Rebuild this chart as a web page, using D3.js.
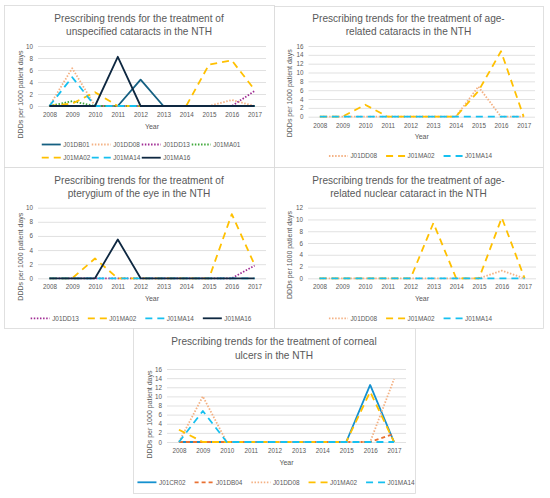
<!DOCTYPE html>
<html>
<head>
<meta charset="utf-8">
<script src="https://cdn.jsdelivr.net/npm/d3@7"></script>
<style>
  body { margin: 0; background: #fff; }
  text { font-family: "Liberation Sans", Arial, sans-serif; fill: #595959; }
</style>
</head>
<body>
<div id="chart"></div>
<script>
// ---------- data ----------
var years = ["2008", "2009", "2010", "2011", "2012", "2013", "2014", "2015", "2016", "2017"];

// unspecified cataracts
var unspec_J01DB01 = [0, 0, 0, 0, 4.4, 0, 0, 0, 0, 0];
var unspec_J01DD08 = [0, 6.3, 0, 0, 0, 0, 0, 0, 1.0, 0];
var unspec_J01DD13 = [0, 0, 0, 0, 0, 0, 0, 0, 0, 2.5];
var unspec_J01MA01 = [0, 0.8, 0, 0, 0, 0, 0, 0, 0, 0];
var unspec_J01MA02 = [0, 0.4, 2.3, 0, 0, 0, 0, 6.9, 7.6, 2.7];
var unspec_J01MA14 = [0, 4.8, 0, 0, 0, 0, 0, 0, 0, 0];
var unspec_J01MA16 = [0, 0, 0, 8.2, 0, 0, 0, 0, 0, 0];

// age-related cataracts
var age_J01DD08 = [0, 0, 0, 0, 0, 0, 0, 6.8, 0, 0];
var age_J01MA02 = [0, 0, 2.7, 0, 0, 0, 0, 5.8, 14.8, 0];
var age_J01MA14 = [0, 0, 0, 0, 0, 0, 0, 0, 0, 0];

// pterygium of the eye
var pter_J01DD13 = [0, 0, 0, 0, 0, 0, 0, 0, 0, 1.8];
var pter_J01MA02 = [0, 0, 2.8, 0, 0, 0, 0, 0, 9.1, 1.9];
var pter_J01MA14 = [0, 0, 0, 0, 0, 0, 0, 0, 0, 0];
var pter_J01MA16 = [0, 0, 0, 5.5, 0, 0, 0, 0, 0, 0];

// age-related nuclear cataract
var nuc_J01DD08 = [0, 0, 0, 0, 0, 0, 0, 0, 1.3, 0];
var nuc_J01MA02 = [0, 0, 0, 0, 0, 9.4, 0, 0, 10.3, 0];
var nuc_J01MA14 = [0, 0, 0, 0, 0, 0, 0, 0, 0, 0];

// corneal ulcers
var corn_J01CR02 = [0, 0, 0, 0, 0, 0, 0, 0, 12.5, 0];
var corn_J01DB04 = [0, 0, 0, 0, 0, 0, 0, 0, 0, 1.8];
var corn_J01DD08 = [0, 10, 0, 0, 0, 0, 0, 0, 0, 13.8];
var corn_J01MA02 = [2.7, 0, 0, 0, 0, 0, 0, 0, 11, 0];
var corn_J01MA14 = [0, 6.8, 0, 0, 0, 0, 0, 0, 0, 0];

// ---------- styles ----------
var colors = {
    J01DB01: "#156082", J01DD08: "#F4B183", J01DD13: "#A02B93", J01MA01: "#3FA83A",
    J01MA02: "#FFC000", J01MA14: "#16C0F0", J01MA16: "#0E2841",
    J01CR02: "#1591CF", J01DB04: "#E97132"
};
var dashes = {
    J01DB01: null, J01MA16: null, J01CR02: null,
    J01DD08: "1.5,1.6", J01DD13: "1.5,1.6", J01MA01: "1.5,1.6",
    J01MA02: "7,5", J01MA14: "7,5", J01DB04: "4,3"
};

var panels = [
    {
        title: ["Prescribing trends for the treatment of", "unspecified cataracts in the NTH"],
        box: [4, 5, 274, 167], xr: [38, 266], yr: [106, 46], yMax: 10, step: 2,
        titleY: 18, labelX: 20, labelY: 94.5, legendY: [144.5, 157.7], cols: 4, colW: 50,
        series: [["J01DB01", unspec_J01DB01], ["J01DD08", unspec_J01DD08], ["J01DD13", unspec_J01DD13],
                 ["J01MA01", unspec_J01MA01], ["J01MA02", unspec_J01MA02], ["J01MA14", unspec_J01MA14],
                 ["J01MA16", unspec_J01MA16]]
    },
    {
        title: ["Prescribing trends for the treatment of age-", "related cataracts in the NTH"],
        box: [274, 6, 543, 167], xr: [308.5, 535], yr: [116.7, 46], yMax: 16, step: 2,
        titleY: 18.3, labelX: 289, labelY: 93.3, legendY: [156],
        series: [["J01DD08", age_J01DD08], ["J01MA02", age_J01MA02], ["J01MA14", age_J01MA14]]
    },
    {
        title: ["Prescribing trends for the treatment of", "pterygium of the eye in the NTH"],
        box: [4, 167, 274, 328], xr: [38, 266], yr: [278.3, 207.7], yMax: 10, step: 2,
        titleY: 180, labelX: 20, labelY: 256.7, legendY: [318.3],
        series: [["J01DD13", pter_J01DD13], ["J01MA02", pter_J01MA02], ["J01MA14", pter_J01MA14],
                 ["J01MA16", pter_J01MA16]]
    },
    {
        title: ["Prescribing trends for the treatment of age-", "related nuclear cataract in the NTH"],
        box: [274, 167, 543, 328], xr: [308, 536], yr: [278.3, 207.7], yMax: 12, step: 2,
        titleY: 180, labelX: 289, labelY: 255, legendY: [318.3],
        series: [["J01DD08", nuc_J01DD08], ["J01MA02", nuc_J01MA02], ["J01MA14", nuc_J01MA14]]
    },
    {
        title: ["Prescribing trends for the treatment of corneal", "ulcers in the NTH"],
        box: [133, 328, 415, 493], xr: [167, 406], yr: [442, 369], yMax: 16, step: 2,
        titleY: 341.7, labelX: 149, labelY: 414.5, legendY: [482.3],
        series: [["J01CR02", corn_J01CR02], ["J01DB04", corn_J01DB04], ["J01DD08", corn_J01DD08],
                 ["J01MA02", corn_J01MA02], ["J01MA14", corn_J01MA14]]
    }
];

var width = 550, height = 498;

var svg = d3.select("#chart")
    .append("svg")
    .attr("width", width)
    .attr("height", height);

svg.append("rect").attr("width", width).attr("height", height).attr("fill", "#fff");

panels.forEach(drawPanel);

function drawPanel(p) {
    var g = svg.append("g");
    var bx0 = p.box[0], by0 = p.box[1], bx1 = p.box[2], by1 = p.box[3];
    var cx = (bx0 + bx1) / 2;

    // frame
    g.append("rect")
        .attr("x", bx0 + 0.5).attr("y", by0 + 0.5)
        .attr("width", bx1 - bx0).attr("height", by1 - by0)
        .attr("fill", "#fff")
        .attr("stroke", "#d9d9d9")
        .attr("stroke-width", 0.8);

    // title
    p.title.forEach(function (line, i) {
        g.append("text")
            .attr("x", cx)
            .attr("y", p.titleY + i * 13.3 + 3.6)
            .attr("text-anchor", "middle")
            .style("font-size", "10.1px")
            .text(line);
    });

    var x = d3.scalePoint().domain(years).range(p.xr).padding(0.5);
    var y = d3.scaleLinear().domain([0, p.yMax]).range(p.yr);

    // y axis with gridlines
    var yAxis = g.append("g")
        .attr("transform", "translate(" + p.xr[0] + ",0)")
        .call(d3.axisLeft(y)
            .tickValues(d3.range(0, p.yMax + 0.001, p.step))
            .tickSize(-(p.xr[1] - p.xr[0]))
            .tickPadding(5));
    yAxis.select(".domain").remove();
    yAxis.selectAll(".tick line").attr("stroke", "#d9d9d9").attr("stroke-width", 0.8);
    yAxis.selectAll(".tick text")
        .attr("fill", "#595959")
        .style("font-size", "6.3px")
        .style("font-family", '"Liberation Sans", Arial, sans-serif');

    // x axis labels
    var xAxis = g.append("g")
        .attr("transform", "translate(0," + p.yr[0] + ")")
        .call(d3.axisBottom(x).tickSize(0).tickPadding(6.6));
    xAxis.select(".domain").remove();
    xAxis.selectAll(".tick text")
        .attr("fill", "#595959")
        .style("font-size", "6.3px")
        .style("font-family", '"Liberation Sans", Arial, sans-serif');

    // axis titles
    g.append("text")
        .attr("x", (p.xr[0] + p.xr[1]) / 2)
        .attr("y", p.yr[0] + 20 + 2.5)
        .attr("text-anchor", "middle")
        .style("font-size", "7px")
        .text("Year");

    g.append("text")
        .attr("transform", "translate(" + (p.labelX + 2.5) + "," + p.labelY + ") rotate(-90)")
        .attr("text-anchor", "middle")
        .style("font-size", "7px")
        .text("DDDs per 1000 patient days");

    // series lines
    var line = d3.line()
        .x(function (d, i) { return x(years[i]); })
        .y(function (d) { return y(d); });

    p.series.forEach(function (s) {
        g.append("path")
            .datum(s[1])
            .attr("d", line)
            .attr("fill", "none")
            .attr("stroke", colors[s[0]])
            .attr("stroke-width", 1.8)
            .attr("stroke-linejoin", "round")
            .attr("stroke-dasharray", dashes[s[0]]);
    });

    drawLegend(g, p, cx);
}

function drawLegend(g, p, cx) {
    var lineLen = 19, gap = 2.5, after = 9;
    var names = p.series.map(function (s) { return s[0]; });
    var rows = [];
    if (p.cols) {
        for (var i = 0; i < names.length; i += p.cols) rows.push(names.slice(i, i + p.cols));
    } else {
        rows.push(names);
    }

    rows.forEach(function (row, r) {
        var ly = p.legendY[r];
        var items = g.append("g");
        var widths = [];
        row.forEach(function (name) {
            var t = items.append("text")
                .attr("y", ly + 2.2)
                .style("font-size", "6.4px")
                .text(name);
            widths.push(t.node().getComputedTextLength());
            t.remove();
        });

        var starts = [], pos = 0;
        row.forEach(function (name, i) {
            starts.push(pos);
            pos += p.colW ? p.colW : lineLen + gap + widths[i] + after;
        });
        var total;
        if (p.colW) {
            // grid layout: width of widest full row
            var full = Math.min(p.cols, names.length);
            total = (full - 1) * p.colW + lineLen + gap + d3.max(widths);
        } else {
            total = pos - after;
        }
        var x0 = cx + 2 - total / 2;

        row.forEach(function (name, i) {
            var sx = x0 + starts[i];
            items.append("line")
                .attr("x1", sx).attr("x2", sx + lineLen)
                .attr("y1", ly).attr("y2", ly)
                .attr("stroke", colors[name])
                .attr("stroke-width", 1.8)
                .attr("stroke-dasharray", dashes[name]);
            items.append("text")
                .attr("x", sx + lineLen + gap)
                .attr("y", ly + 2.2)
                .style("font-size", "6.4px")
                .text(name);
        });
    });
}
</script>
</body>
</html>
